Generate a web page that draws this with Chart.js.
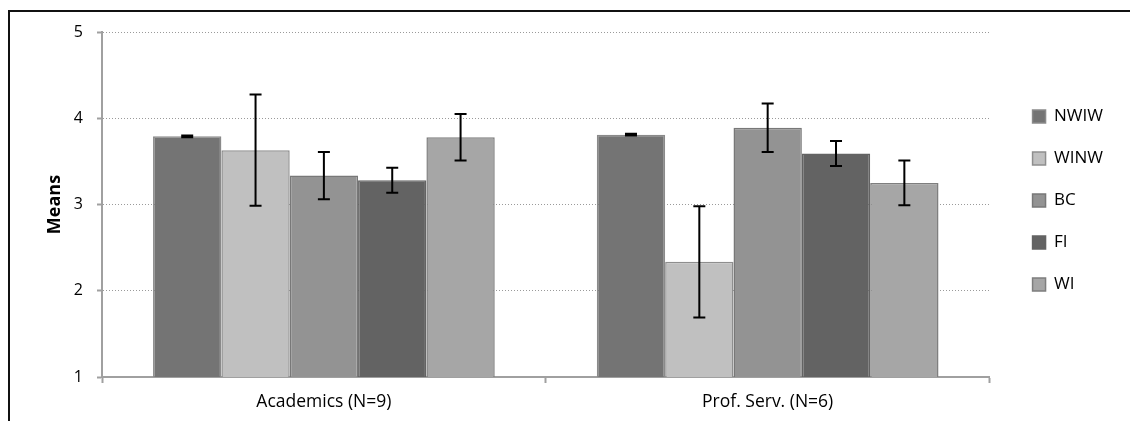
<!DOCTYPE html>
<html>
<head>
<meta charset="utf-8">
<script src="https://cdn.jsdelivr.net/npm/chart.js@4/dist/chart.umd.min.js"></script>
<style>
    html, body { margin: 0; padding: 0; background: #fff; overflow: hidden; }
    #frame { position: absolute; left: 8px; top: 10px; width: 1400px; height: 600px; border: 2px solid #111; }
    #wrap { position: absolute; left: 0; top: 0; width: 1130px; height: 421px; }
</style>
</head>
<body>
<div id="frame"></div>
<div id="wrap"><canvas id="meansChart" width="1130" height="421"></canvas></div>
<script>
// data
const categories = ['Academics (N=9)', 'Prof. Serv. (N=6)'];
const seriesNames = ['NWIW', 'WINW', 'BC', 'FI', 'WI'];

const nwiwMeans = [3.79, 3.81];
const winwMeans = [3.63, 2.335];
const bcMeans = [3.335, 3.89];
const fiMeans = [3.28, 3.59];
const wiMeans = [3.78, 3.25];

const nwiwErr = [0.01, 0.01];
const winwErr = [0.645, 0.645];
const bcErr = [0.275, 0.28];
const fiErr = [0.145, 0.145];
const wiErr = [0.27, 0.26];

const yTicks = [1, 2, 3, 4, 5];

const fills = ['#747474', '#c0c0c0', '#939393', '#636363', '#a6a6a6'];
const edges = ['#8a8a8a', '#8e8e8e', '#787878', '#636363', '#7e7e7e'];

const means = [nwiwMeans, winwMeans, bcMeans, fiMeans, wiMeans];
const errors = [nwiwErr, winwErr, bcErr, fiErr, wiErr];

// draws the +/- bars on top of every bar
const errorBars = {
    id: 'errorBars',
    afterDatasetsDraw(chart) {
        const { ctx } = chart;
        const y = chart.scales.y;
        ctx.save();
        ctx.strokeStyle = '#000';
        ctx.lineWidth = 2;
        chart.data.datasets.forEach((ds, i) => {
            chart.getDatasetMeta(i).data.forEach((bar, j) => {
                const v = ds.data[j], e = ds.errors[j];
                const top = y.getPixelForValue(v + e);
                const bot = y.getPixelForValue(v - e);
                const x = bar.x, cap = 6;
                ctx.beginPath();
                ctx.moveTo(x, top); ctx.lineTo(x, bot);
                ctx.moveTo(x - cap, top); ctx.lineTo(x + cap, top);
                ctx.moveTo(x - cap, bot); ctx.lineTo(x + cap, bot);
                ctx.stroke();
            });
        });
        ctx.restore();
    }
};

// pushes the legend a little further away from the plot
const legendShift = {
    id: 'legendShift',
    afterLayout(chart) {
        const lg = chart.legend;
        if (lg) { lg.left += 18; lg.right += 18; lg.top -= 4; lg.bottom -= 4; }
    }
};

const ctx = document.getElementById('meansChart').getContext('2d');
new Chart(ctx, {
    type: 'bar',
    data: {
        labels: categories,
        datasets: seriesNames.map((name, i) => ({
            label: name,
            data: means[i],
            errors: errors[i],
            backgroundColor: fills[i],
            borderColor: edges[i],
            borderWidth: 1.5,
            barPercentage: 1,
            categoryPercentage: 0.77
        }))
    },
    options: {
        responsive: false,
        animation: false,
        devicePixelRatio: 1,
        layout: { padding: { left: 0, top: 32, right: 35, bottom: -1 } },
        plugins: {
            tooltip: { enabled: false },
            legend: {
                position: 'right',
                fullSize: false,
                align: 'center',
                labels: {
                    boxWidth: 13,
                    boxHeight: 13,
                    padding: 25,
                    color: '#000',
                    font: { family: 'Open Sans', size: 17 }
                }
            }
        },
        scales: {
            x: {
                grid: { display: true, drawOnChartArea: false, drawTicks: true, tickLength: 6, color: '#a0a0a0', tickWidth: 2 },
                border: { color: '#a0a0a0', width: 2 },
                ticks: { color: '#000', padding: 9, maxRotation: 0, font: { family: 'Open Sans', size: 17.5 } }
            },
            y: {
                min: 1,
                max: 5,
                afterFit: s => { s.width = 102; },
                afterBuildTicks: s => { s.ticks = yTicks.map(v => ({ value: v })); },
                grid: { color: '#9a9a9a', lineWidth: 1, tickColor: '#a0a0a0', tickLength: 5, tickWidth: 2 },
                border: { color: '#a0a0a0', width: 2, dash: [1, 2] },
                ticks: { color: '#000', padding: 14, font: { family: 'Open Sans', size: 16 } },
                title: {
                    display: true,
                    text: 'Means',
                    color: '#000',
                    padding: { top: 44, bottom: 4 },
                    font: { family: 'Open Sans', size: 18, weight: 'bold' }
                }
            }
        }
    },
    plugins: [errorBars, legendShift]
});
</script>
</body>
</html>
